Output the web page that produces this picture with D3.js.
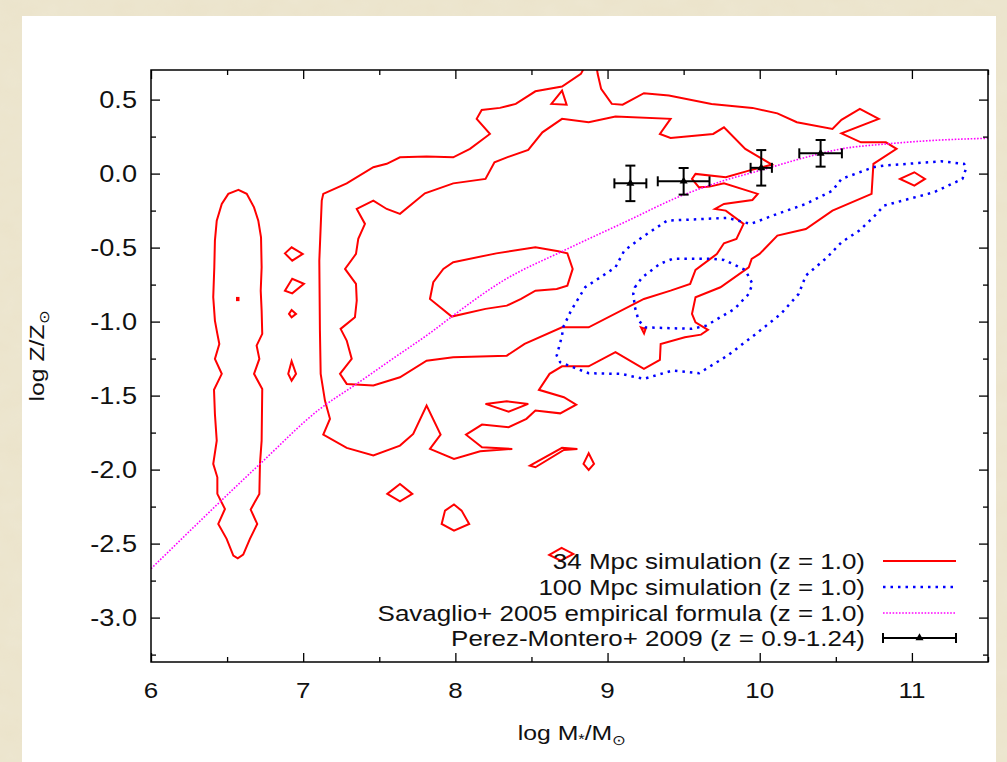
<!DOCTYPE html>
<html>
<head>
  <meta charset="utf-8">
  <script src="https://d3js.org/d3.v7.min.js"></script>
  <style>
    body { margin: 0; background: #e8dfc4; }
    svg { display: block; }
    svg text { font-family: "Liberation Sans", Arial, sans-serif; fill: #111; }
  </style>
</head>
<body>
<script>
// 34 Mpc simulation contours (log M*, log Z)
var red34Outer = [[7.132,-0.137],[7.286,-0.066],[7.461,0.043],[7.549,0.066],[7.636,0.110],[7.811,0.115],[7.986,0.110],[8.096,0.167],[8.227,0.268],[8.140,0.370],[8.173,0.430],[8.293,0.444],[8.397,0.471],[8.526,0.556],[8.701,0.588],[8.825,0.674],[8.88,0.78],[8.92,0.78],[8.935,0.674],[8.958,0.572],[9.028,0.471],[9.099,0.466],[9.239,0.543],[9.403,0.527],[9.683,0.471],[9.952,0.444],[10.116,0.407],[10.244,0.347],[10.478,0.302],[10.537,0.363],[10.658,0.437],[10.782,0.370],[10.537,0.272],[10.665,0.211],[10.829,0.211],[10.899,0.167],[10.747,0.066],[10.735,-0.137],[10.478,-0.250],[10.303,-0.374],[10.116,-0.419],[9.999,-0.543],[9.947,-0.576],[9.928,-0.633],[9.742,-0.768],[9.578,-0.836],[9.555,-0.948],[9.578,-1.005],[9.660,-1.056],[9.614,-1.088],[9.508,-1.106],[9.349,-1.151],[9.344,-1.259],[9.239,-1.320],[9.052,-1.207],[8.876,-1.302],[8.701,-1.302],[8.619,-1.353],[8.549,-1.461],[8.713,-1.511],[8.794,-1.561],[8.689,-1.620],[8.526,-1.601],[8.467,-1.657],[8.350,-1.714],[8.175,-1.696],[8.070,-1.764],[8.175,-1.849],[8.374,-1.860],[8.163,-1.876],[7.991,-1.928],[7.833,-1.860],[7.903,-1.764],[7.811,-1.568],[7.723,-1.759],[7.636,-1.838],[7.461,-1.905],[7.286,-1.853],[7.132,-1.764],[7.176,-1.657],[7.143,-1.534],[7.115,-1.353],[7.110,-1.061],[7.106,-0.588],[7.122,-0.182]];

var red34Middle = [[7.352,-0.239],[7.461,-0.182],[7.549,-0.239],[7.636,-0.272],[7.800,-0.133],[7.986,-0.066],[8.198,-0.036],[8.257,0.076],[8.339,0.110],[8.479,0.160],[8.572,0.279],[8.701,0.370],[8.876,0.347],[9.052,0.385],[9.414,0.370],[9.344,0.268],[9.414,0.241],[9.694,0.268],[9.765,0.313],[9.905,0.167],[9.999,0.110],[10.080,0.061],[9.929,0.020],[9.777,-0.025],[9.578,-0.002],[9.555,-0.036],[9.601,-0.093],[9.671,-0.088],[9.765,-0.066],[9.987,-0.137],[9.952,-0.178],[9.765,-0.205],[9.706,-0.239],[9.777,-0.250],[9.894,-0.340],[9.847,-0.441],[9.765,-0.471],[9.718,-0.543],[9.578,-0.651],[9.543,-0.745],[9.414,-0.791],[9.239,-0.847],[8.876,-1.039],[8.701,-1.039],[8.455,-1.151],[8.338,-1.230],[7.986,-1.241],[7.811,-1.264],[7.636,-1.376],[7.461,-1.432],[7.286,-1.421],[7.242,-1.353],[7.319,-1.252],[7.286,-1.128],[7.246,-1.049],[7.340,-0.971],[7.352,-0.858],[7.347,-0.745],[7.275,-0.644],[7.347,-0.543],[7.362,-0.441],[7.406,-0.340]];

var red34Inner = [[7.986,-0.599],[8.269,-0.539],[8.526,-0.498],[8.677,-0.525],[8.736,-0.539],[8.771,-0.644],[8.736,-0.757],[8.666,-0.779],[8.526,-0.791],[8.432,-0.847],[8.338,-0.892],[8.198,-0.914],[7.976,-0.966],[7.833,-0.847],[7.855,-0.734],[7.921,-0.644]];

var red34Strip = [[6.574,-0.110],[6.508,-0.137],[6.465,-0.205],[6.432,-0.318],[6.420,-0.453],[6.416,-0.633],[6.409,-0.836],[6.420,-0.993],[6.436,-1.083],[6.449,-1.151],[6.420,-1.252],[6.465,-1.353],[6.414,-1.461],[6.420,-1.624],[6.432,-1.804],[6.409,-1.961],[6.436,-2.052],[6.436,-2.164],[6.486,-2.266],[6.442,-2.367],[6.497,-2.468],[6.541,-2.581],[6.570,-2.599],[6.606,-2.574],[6.650,-2.468],[6.698,-2.367],[6.655,-2.270],[6.712,-2.164],[6.716,-1.961],[6.727,-1.804],[6.731,-1.455],[6.677,-1.353],[6.712,-1.252],[6.694,-1.162],[6.731,-1.083],[6.727,-0.926],[6.721,-0.791],[6.727,-0.633],[6.723,-0.430],[6.705,-0.318],[6.677,-0.228],[6.629,-0.137]];

var red34Islands = [
  [[6.565,-0.840],[6.575,-0.840],[6.575,-0.855],[6.565,-0.855]],
  [[6.880,-0.539],[6.924,-0.498],[6.997,-0.543],[6.928,-0.588]],
  [[6.880,-0.791],[6.928,-0.711],[7.005,-0.745],[6.928,-0.809]],
  [[6.907,-0.948],[6.924,-0.921],[6.953,-0.948],[6.924,-0.971]],
  [[6.902,-1.353],[6.924,-1.268],[6.953,-1.353],[6.924,-1.399]],
  [[8.631,0.471],[8.701,0.561],[8.731,0.466]],
  [[10.922,-0.036],[11.016,0.009],[11.086,-0.036],[11.016,-0.081]],
  [[9.22,-1.04],[9.25,-1.05],[9.24,-1.08]],
  [[8.198,-1.556],[8.338,-1.539],[8.479,-1.556],[8.350,-1.608]],
  [[8.490,-1.973],[8.701,-1.853],[8.802,-1.860],[8.713,-1.867],[8.526,-1.984]],
  [[8.842,-1.961],[8.876,-1.890],[8.911,-1.961],[8.876,-2.002]],
  [[7.910,-2.367],[7.932,-2.277],[7.991,-2.236],[8.041,-2.277],[8.091,-2.367],[7.991,-2.412]],
  [[7.553,-2.164],[7.636,-2.097],[7.717,-2.164],[7.636,-2.214]],
  [[8.617,-2.576],[8.698,-2.529],[8.775,-2.570],[8.692,-2.615]]
];

// 100 Mpc simulation contours
var blue100Outer = [[10.747,0.043],[10.817,0.054],[11.191,0.083],[11.343,0.066],[11.355,0.032],[11.332,-0.036],[11.145,-0.126],[10.817,-0.216],[10.747,-0.295],[10.654,-0.385],[10.537,-0.464],[10.443,-0.566],[10.303,-0.689],[10.256,-0.813],[10.139,-0.948],[9.975,-1.083],[9.788,-1.230],[9.601,-1.349],[9.426,-1.331],[9.239,-1.387],[9.087,-1.353],[8.876,-1.349],[8.689,-1.275],[8.666,-1.230],[8.701,-1.095],[8.708,-1.039],[8.760,-0.926],[8.853,-0.768],[8.970,-0.689],[9.052,-0.633],[9.110,-0.520],[9.227,-0.430],[9.391,-0.318],[9.788,-0.299],[9.940,-0.340],[10.116,-0.272],[10.303,-0.205],[10.478,-0.115],[10.537,-0.036]];

var blue100Inner = [[9.180,-0.768],[9.227,-0.701],[9.344,-0.610],[9.426,-0.576],[9.694,-0.576],[9.765,-0.583],[9.905,-0.651],[9.952,-0.745],[9.928,-0.813],[9.835,-0.914],[9.648,-1.027],[9.555,-1.049],[9.250,-1.039],[9.204,-0.993],[9.180,-0.903],[9.169,-0.813]];

// Savaglio+ 2005 curve
var savX = [6.0, 6.716, 7.110, 7.351, 7.570, 7.855, 7.986, 8.315, 8.713, 9.134, 9.461, 9.765, 9.999, 10.303, 10.537, 10.840, 11.121, 11.506];
var savY = [-2.67, -1.962, -1.590, -1.421, -1.264, -1.061, -0.959, -0.723, -0.520, -0.318, -0.160, -0.047, 0.020, 0.110, 0.167, 0.201, 0.223, 0.239];

// Perez-Montero+ 2009 points
var pmX = [9.15, 9.50, 10.01, 10.40];
var pmY = [-0.066, -0.052, 0.039, 0.137];
var pmXerr = [0.105, 0.17, 0.07, 0.14];
var pmYerr = [0.12, 0.09, 0.12, 0.09];

var xTicks = [6, 7, 8, 9, 10, 11];
var xMinor = [6.5, 7.5, 8.5, 9.5, 10.5, 11.5];
var yTicks = [0.5, 0.0, -0.5, -1.0, -1.5, -2.0, -2.5, -3.0];
var yMinor = [0.25, -0.25, -0.75, -1.25, -1.75, -2.25, -2.75, -3.25];

var legendLabels = ["34 Mpc simulation (z = 1.0)", "100 Mpc simulation (z = 1.0)",
  "Savaglio+ 2005 empirical formula (z = 1.0)", "Perez-Montero+ 2009 (z = 0.9-1.24)"];

var width = 1007, height = 762;
var pL = 151, pR = 988, pT = 70, pB = 662;
var sx = 1.18; // text looks horizontally stretched in the original

var svg = d3.select("body").append("svg")
    .attr("width", width)
    .attr("height", height);

// mottled beige paper behind the white sheet
var defs = svg.append("defs");
var paper = defs.append("filter").attr("id", "paper").attr("x", 0).attr("y", 0).attr("width", "100%").attr("height", "100%");
paper.append("feTurbulence").attr("type", "fractalNoise").attr("baseFrequency", "0.035 0.05").attr("numOctaves", 3).attr("seed", 4);
paper.append("feColorMatrix").attr("type", "matrix")
    .attr("values", "0 0 0 0 0.86  0 0 0 0 0.82  0 0 0 0 0.68  0 0 0 0.55 0");
paper.append("feComposite").attr("in2", "SourceGraphic").attr("operator", "in");

svg.append("rect").attr("width", width).attr("height", height).attr("fill", "#ebe3ca");
svg.append("rect").attr("width", width).attr("height", height).attr("fill", "#fff").attr("filter", "url(#paper)");
svg.append("rect").attr("x", 22).attr("y", 16).attr("width", 974).attr("height", 760).attr("fill", "#fff");

var x = d3.scaleLinear().domain([6, 11.5]).range([pL, pR]);
var y = d3.scaleLinear().domain([-3.3, 0.7]).range([pB, pT]);

defs.append("clipPath").attr("id", "plotclip")
  .append("rect").attr("x", pL).attr("y", pT).attr("width", pR - pL).attr("height", pB - pT);

var plot = svg.append("g").attr("clip-path", "url(#plotclip)");

var closedLine = d3.line().x(function(d) { return x(d[0]); }).y(function(d) { return y(d[1]); })
    .curve(d3.curveLinearClosed);
var openLine = d3.line().x(function(d) { return x(d[0]); }).y(function(d) { return y(d[1]); })
    .curve(d3.curveMonotoneX);

// red contours
var redShapes = [red34Outer, red34Middle, red34Inner, red34Strip].concat(red34Islands);
plot.selectAll(".red").data(redShapes).enter().append("path")
    .attr("class", "red")
    .attr("d", closedLine)
    .attr("fill", "none")
    .attr("stroke", "#ff0000")
    .attr("stroke-width", 2)
    .attr("stroke-linejoin", "miter");

// blue dotted contours
plot.selectAll(".blue").data([blue100Outer, blue100Inner]).enter().append("path")
    .attr("class", "blue")
    .attr("d", closedLine)
    .attr("fill", "none")
    .attr("stroke", "#0000ff")
    .attr("stroke-width", 2.5)
    .attr("stroke-dasharray", "2.5,5");

// magenta curve
var savPts = savX.map(function(v, i) { return [v, savY[i]]; });
plot.append("path")
    .attr("d", openLine(savPts))
    .attr("fill", "none")
    .attr("stroke", "#ff00ff")
    .attr("stroke-width", 1.6)
    .attr("stroke-dasharray", "1.6,1.6");

// error bars
var cap = 5;
var eb = svg.append("g").attr("stroke", "#000").attr("stroke-width", 2);
pmX.forEach(function(v, i) {
  var cx = x(v), cy = y(pmY[i]);
  var x0 = x(v - pmXerr[i]), x1 = x(v + pmXerr[i]);
  var y0 = y(pmY[i] - pmYerr[i]), y1 = y(pmY[i] + pmYerr[i]);
  eb.append("line").attr("x1", x0).attr("x2", x1).attr("y1", cy).attr("y2", cy);
  eb.append("line").attr("x1", x0).attr("x2", x0).attr("y1", cy - cap).attr("y2", cy + cap);
  eb.append("line").attr("x1", x1).attr("x2", x1).attr("y1", cy - cap).attr("y2", cy + cap);
  eb.append("line").attr("x1", cx).attr("x2", cx).attr("y1", y0).attr("y2", y1);
  eb.append("line").attr("x1", cx - cap).attr("x2", cx + cap).attr("y1", y0).attr("y2", y0);
  eb.append("line").attr("x1", cx - cap).attr("x2", cx + cap).attr("y1", y1).attr("y2", y1);
  svg.append("path").attr("d", d3.symbol(d3.symbolTriangle, 28)())
      .attr("transform", "translate(" + cx + "," + cy + ")").attr("fill", "#000");
});

// axes: ticks inward on all four sides
function ticks(axis, tr, vals, size) {
  var g = svg.append("g").attr("transform", tr)
      .call(axis.tickValues(vals).tickSize(-size).tickFormat(""));
  g.select(".domain").remove();
  g.selectAll("line").attr("stroke", "#000").attr("stroke-width", 1.3);
}
ticks(d3.axisBottom(x), "translate(0," + pB + ")", xTicks, 9);
ticks(d3.axisBottom(x), "translate(0," + pB + ")", xMinor, 5);
ticks(d3.axisTop(x), "translate(0," + pT + ")", xTicks, 9);
ticks(d3.axisTop(x), "translate(0," + pT + ")", xMinor, 5);
ticks(d3.axisLeft(y), "translate(" + pL + ",0)", yTicks, 9);
ticks(d3.axisLeft(y), "translate(" + pL + ",0)", yMinor, 5);
ticks(d3.axisRight(y), "translate(" + pR + ",0)", yTicks, 9);
ticks(d3.axisRight(y), "translate(" + pR + ",0)", yMinor, 5);

svg.append("rect").attr("x", pL).attr("y", pT).attr("width", pR - pL).attr("height", pB - pT)
    .attr("fill", "none").attr("stroke", "#000").attr("stroke-width", 1.5);

// tick labels
function label(tx, ty, str, anchor, size) {
  return svg.append("g").attr("transform", "translate(" + tx + "," + ty + ") scale(" + sx + ",1)")
    .append("text").attr("text-anchor", anchor).attr("dy", "0.35em")
    .style("font-size", size + "px").text(str);
}
yTicks.forEach(function(v) { label(137, y(v), v.toFixed(1), "end", 23); });
xTicks.forEach(function(v) { label(x(v), 690, String(v), "middle", 22); });

// axis titles
var yt = svg.append("g").attr("transform", "translate(44,356) rotate(-90) scale(" + sx + ",1)")
  .append("text").attr("text-anchor", "middle").style("font-size", "21px");
yt.append("tspan").text("log Z/Z");
yt.append("tspan").attr("dy", 5).style("font-size", "14px").text("\u2299");

var xt = svg.append("g").attr("transform", "translate(572,740) scale(" + sx + ",1)")
  .append("text").attr("text-anchor", "middle").style("font-size", "21px");
xt.append("tspan").text("log M");
xt.append("tspan").attr("dy", 4).style("font-size", "14px").text("*");
xt.append("tspan").attr("dy", -4).text("/M");
xt.append("tspan").attr("dy", 5).style("font-size", "14px").text("\u2299");

// legend
var legY = [561, 587, 613, 638];
legendLabels.forEach(function(t, i) { label(865, legY[i], t, "end", 22); });
var lx0 = 883, lx1 = 956;
svg.append("line").attr("x1", lx0).attr("x2", lx1).attr("y1", legY[0]).attr("y2", legY[0])
    .attr("stroke", "#ff0000").attr("stroke-width", 2);
svg.append("line").attr("x1", lx0).attr("x2", lx1).attr("y1", legY[1]).attr("y2", legY[1])
    .attr("stroke", "#0000ff").attr("stroke-width", 2.5).attr("stroke-dasharray", "2.5,5");
svg.append("line").attr("x1", lx0).attr("x2", lx1).attr("y1", legY[2]).attr("y2", legY[2])
    .attr("stroke", "#ff00ff").attr("stroke-width", 1.6).attr("stroke-dasharray", "1.6,1.6");
var lg = svg.append("g").attr("stroke", "#000").attr("stroke-width", 2);
lg.append("line").attr("x1", lx0).attr("x2", lx1).attr("y1", legY[3]).attr("y2", legY[3]);
lg.append("line").attr("x1", lx0).attr("x2", lx0).attr("y1", legY[3] - cap).attr("y2", legY[3] + cap);
lg.append("line").attr("x1", lx1).attr("x2", lx1).attr("y1", legY[3] - cap).attr("y2", legY[3] + cap);
svg.append("path").attr("d", d3.symbol(d3.symbolTriangle, 28)())
    .attr("transform", "translate(" + ((lx0 + lx1) / 2) + "," + legY[3] + ")").attr("fill", "#000");
</script>
</body>
</html>
